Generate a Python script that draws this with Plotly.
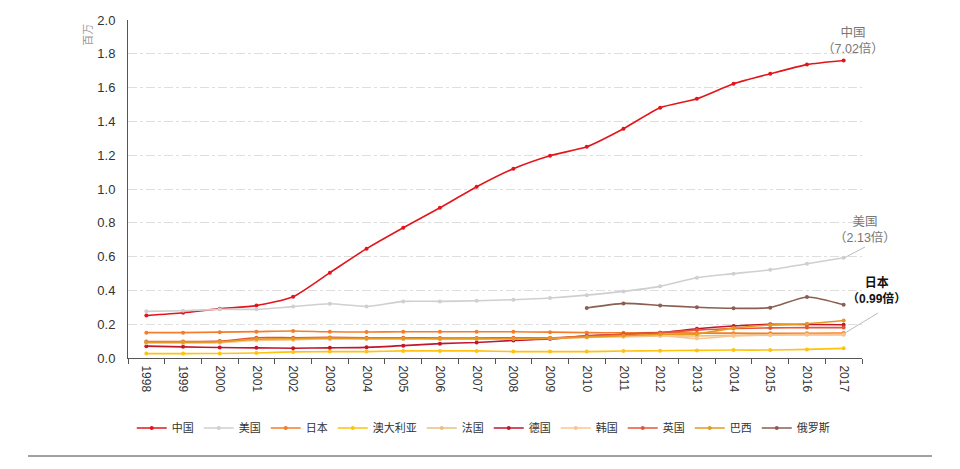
import plotly.graph_objects as go

years = [str(y) for y in range(1998, 2018)]

china = [0.251, 0.268, 0.292, 0.310, 0.363, 0.505, 0.647, 0.771, 0.889, 1.013,
         1.120, 1.197, 1.250, 1.357, 1.481, 1.534, 1.623, 1.682, 1.736, 1.760]
usa = [0.276, 0.280, 0.288, 0.288, 0.304, 0.321, 0.305, 0.335, 0.335, 0.339,
       0.345, 0.355, 0.372, 0.394, 0.424, 0.475, 0.499, 0.522, 0.558, 0.593]
japan = [0.150, 0.150, 0.153, 0.156, 0.160, 0.155, 0.154, 0.155, 0.155, 0.155,
         0.155, 0.153, 0.150, 0.149, 0.150, 0.147, 0.147, 0.146, 0.146, 0.148]
australia = [0.026, 0.026, 0.027, 0.030, 0.036, 0.038, 0.038, 0.042, 0.042, 0.042,
             0.038, 0.038, 0.038, 0.041, 0.043, 0.045, 0.047, 0.047, 0.051, 0.057]
france = [0.090, 0.090, 0.092, 0.108, 0.110, 0.112, 0.112, 0.113, 0.112, 0.112,
          0.113, 0.115, 0.122, 0.126, 0.130, 0.130, 0.135, 0.138, 0.140, 0.140]
germany = [0.070, 0.066, 0.062, 0.060, 0.058, 0.060, 0.063, 0.073, 0.085, 0.092,
           0.104, 0.112, 0.132, 0.140, 0.150, 0.173, 0.189, 0.199, 0.198, 0.197]
korea = [0.088, 0.088, 0.092, 0.104, 0.108, 0.114, 0.114, 0.114, 0.112, 0.112,
         0.114, 0.115, 0.124, 0.128, 0.134, 0.115, 0.130, 0.135, 0.137, 0.137]
uk = [0.097, 0.097, 0.100, 0.120, 0.120, 0.122, 0.120, 0.120, 0.118, 0.118,
      0.120, 0.120, 0.130, 0.140, 0.150, 0.165, 0.175, 0.178, 0.180, 0.180]
brazil = [0.094, 0.094, 0.096, 0.112, 0.114, 0.118, 0.116, 0.116, 0.114, 0.114,
          0.116, 0.118, 0.124, 0.132, 0.140, 0.142, 0.177, 0.195, 0.203, 0.222]
russia_years = [str(y) for y in range(2010, 2018)]
russia = [0.296, 0.323, 0.311, 0.300, 0.294, 0.298, 0.361, 0.315]

series = [
    ("中国", years, china, "#e3151b"),
    ("美国", years, usa, "#cfcfcf"),
    ("日本", years, japan, "#f47d2a"),
    ("澳大利亚", years, australia, "#ffc20e"),
    ("法国", years, france, "#e8c07e"),
    ("德国", years, germany, "#c1172c"),
    ("韩国", years, korea, "#fbc48e"),
    ("英国", years, uk, "#e4553b"),
    ("巴西", years, brazil, "#e39a1e"),
    ("俄罗斯", russia_years, russia, "#8a5e50"),
]

fig = go.Figure()
for name, xs, ys, col in series:
    fig.add_trace(go.Scatter(
        x=xs, y=ys, name=name, mode="lines+markers",
        line=dict(color=col, width=1.6, shape="spline", smoothing=0.6),
        marker=dict(color=col, size=4, symbol="circle"),
    ))

font_main = "Liberation Sans, Noto Sans CJK SC, sans-serif"

# page body has an 8px margin; figure coords = screen coords - 8
fig.update_layout(
    width=960, height=469,
    margin=dict(l=120, r=106, t=12, b=119, autoexpand=False),
    paper_bgcolor="white", plot_bgcolor="white",
    font=dict(family=font_main, size=12, color="#333"),
    showlegend=True,
    legend=dict(orientation="h", x=0.484, xanchor="center", y=-0.207, yanchor="middle",
                font=dict(size=11, color="#333"), itemwidth=30, tracegroupgap=0),
    xaxis=dict(
        type="category", categoryorder="array", categoryarray=years,
        range=[-0.5, 19.5], tickangle=90, tickson="boundaries",
        ticks="outside", ticklen=5, tickcolor="#555", ticklabelstandoff=4,
        showline=True, linecolor="#555", linewidth=1, showgrid=False,
        tickfont=dict(size=12, color="#333"),
    ),
    yaxis=dict(
        range=[0, 2.0], dtick=0.2, tickformat=".1f",
        showline=True, linecolor="#555", linewidth=1,
        showgrid=True, gridcolor="#dedede", griddash="dashdot", gridwidth=1,
        zeroline=False,
        ticks="outside", ticklen=9, tickcolor="rgba(0,0,0,0)",
        tickfont=dict(size=13, color="#333"),
    ),
)

fig.add_annotation(text="百万", x=-0.0545, y=0.956, xref="paper", yref="paper",
                   xanchor="center", yanchor="middle",
                   textangle=-90, showarrow=False, font=dict(size=11, color="#999"))
fig.add_annotation(text="中国<br>（7.02倍）", x=0.988, y=0.938, xref="paper", yref="paper",
                   xanchor="center", yanchor="middle",
                   showarrow=False, font=dict(size=12.5, color="#777"))
fig.add_annotation(text="美国<br>（2.13倍）", x=1.004, y=0.379, xref="paper", yref="paper",
                   xanchor="center", yanchor="middle",
                   showarrow=False, font=dict(size=12.5, color="#777"))
fig.add_annotation(text="<b>日本<br>（0.99倍）</b>", x=1.020, y=0.201, xref="paper", yref="paper",
                   xanchor="center", yanchor="middle",
                   showarrow=False, font=dict(size=12, color="#111"))

def px_x(p):
    return (p - 128) / 734

def px_y(p):
    return (358 - p) / 338

fig.add_shape(type="line", xref="paper", yref="paper",
              x0=px_x(844), y0=px_y(258), x1=px_x(865), y1=px_y(247),
              line=dict(color="#bbb", width=1))
fig.add_shape(type="line", xref="paper", yref="paper",
              x0=px_x(845), y0=px_y(333), x1=px_x(878), y1=px_y(313),
              line=dict(color="#bbb", width=1))
fig.add_shape(type="line", xref="paper", yref="paper",
              x0=px_x(28), y0=px_y(456), x1=px_x(932), y1=px_y(456),
              line=dict(color="#444", width=1))

fig.write_html("out.html")
